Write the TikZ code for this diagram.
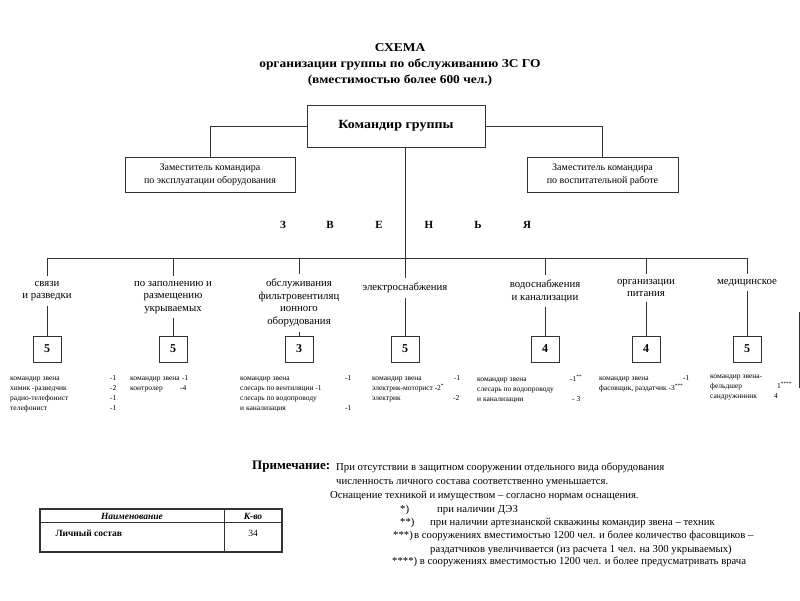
\documentclass[tikz,border=0pt]{standalone}
\usepackage{fontspec}
\setmainfont{Liberation Serif}
\newfontfamily\widefont[FakeStretch=1.12]{Liberation Serif}
\tikzset{
  wire/.style={line width=0.9pt, draw=black!80},
  frame/.style={draw=black!80, line width=0.9pt, align=center, inner sep=1pt},
  deptext/.style={font=\fontsize{10}{13}\selectfont},
  grp/.style={align=center, inner sep=1pt, outer sep=4pt, anchor=north, font=\fontsize{10.8}{12.5}\selectfont},
  numbox/.style={draw=black!80, line width=0.9pt, minimum width=28pt, minimum height=26pt, inner sep=0pt, font=\bfseries\fontsize{12}{12}\selectfont},
  lst/.style={anchor=north west, align=left, inner sep=0pt, font=\fontsize{7.5}{10}\selectfont},
  zv/.style={font=\bfseries\fontsize{11}{11}\selectfont},
  note/.style={anchor=base west, inner sep=0pt, font=\fontsize{10.7}{12}\selectfont},
}
\begin{document}
\begin{tikzpicture}[x=1pt,y=-1pt]
\useasboundingbox (0,0) rectangle (800,600);
% title
\node[align=center, font=\widefont\bfseries\fontsize{12}{16}\selectfont] (title) at (400,65)
  {СХЕМА\\организации группы по обслуживанию ЗС ГО\\(вместимостью более 600 чел.)};
% commander
\node[frame, minimum width=178pt, minimum height=42pt, font=\widefont\bfseries\fontsize{12.5}{13}\selectfont] (cmd) at (396,126) {Командир группы};
\node[frame, deptext, minimum width=170pt, minimum height=35pt] (dl) at (210,174.5) {Заместитель командира\\по эксплуатации оборудования};
\node[frame, deptext, minimum width=151pt, minimum height=35pt] (dr) at (602.5,174.5) {Заместитель командира\\по воспитательной работе};
\draw[wire] (cmd.west) -| (dl.north);
\draw[wire] (cmd.east) -| (dr.north);
% zvenya letters
\node[zv] (z1) at (283,225) {З};
\node[zv] (z2) at (330,225) {В};
\node[zv] (z3) at (379,225) {Е};
\node[zv] (z4) at (429,225) {Н};
\node[zv] (z5) at (478,225) {Ь};
\node[zv] (z6) at (527,225) {Я};
% bus
\coordinate (b1) at (47,258);
\coordinate (b2) at (173,258);
\coordinate (b3) at (299,258);
\coordinate (b4) at (405,258);
\coordinate (b5) at (545,258);
\coordinate (b6) at (646,258);
\coordinate (b7) at (747,258);
\draw[wire] (b1) -- (b7);
\draw[wire] (cmd.south -| b4) -- (b4);
% group labels
\node[grp] (l1) at (47,276) {связи\\и разведки};
\node[grp] (l2) at (173,276) {по заполнению и\\размещению\\укрываемых};
\node[grp] (l3) at (299,274) {обслуживания\\фильтровентиляц\\ионного\\оборудования};
\node[grp] (l4) at (405,278) {электроснабжения};
\node[grp] (l5) at (545,275) {водоснабжения\\и канализации};
\node[grp] (l6) at (646,274) {организации\\питания};
\node[grp] (l7) at (747,274) {медицинское};
% number boxes
\node[numbox] (n1) at (47,349) {5};
\node[numbox] (n2) at (173,349) {5};
\node[numbox] (n3) at (299,349) {3};
\node[numbox] (n4) at (405,349) {5};
\node[numbox] (n5) at (545,349) {4};
\node[numbox] (n6) at (646,349) {4};
\node[numbox] (n7) at (747,349) {5};
\foreach \i in {1,...,7}{
  \draw[wire] (b\i) -- (l\i.north);
  \draw[wire] (l\i.south) -- (n\i.north);
}
% lists
\node[lst] (s1) at (10,375) {\makebox[100pt][l]{командир звена}-1\\\makebox[100pt][l]{химик -разведчик}-2\\\makebox[100pt][l]{радио-телефонист}-1\\\makebox[100pt][l]{телефонист}-1};
\node[lst] (s2) at (130,375) {\makebox[52pt][l]{командир звена}-1\\\makebox[50pt][l]{контролер}-4};
\node[lst] (s3) at (240,375) {\makebox[105pt][l]{командир звена}-1\\слесарь по вентиляции -1\\слесарь по водопроводу\\\makebox[105pt][l]{и канализация}-1};
\node[lst] (s4) at (372,375) {\makebox[82pt][l]{командир звена}-1\\электрик-моторист -2\textsuperscript{*}\\\makebox[81pt][l]{электрик}-2};
\node[lst] (s5) at (477,375) {\makebox[93pt][l]{командир звена}-1\textsuperscript{**}\\слесарь по водопроводу\\\makebox[95pt][l]{и канализации}- 3};
\node[lst] (s6) at (599,375) {\makebox[84pt][l]{командир звена}-1\\фасовщик, раздатчик -3\textsuperscript{***}};
\node[lst] (s7) at (710,375) {командир звена-\\\makebox[67pt][l]{фельдшер}1\textsuperscript{****}\\\makebox[64pt][l]{сандружинник}4};
% stray edge line
\coordinate (e1) at (799,312);
\coordinate (e2) at (799,388);
\draw[wire] (e1) -- (e2);
% notes
\node[note, font=\bfseries\fontsize{13}{13}\selectfont] (pr) at (252,469) {Примечание:};
\node[note] (t1) at (336,470) {При отсутствии в защитном сооружении отдельного вида оборудования};
\node[note] (t2) at (336,484) {численность личного состава соответственно уменьшается.};
\node[note] (t3) at (330,498) {Оснащение техникой и имуществом – согласно нормам оснащения.};
\node[note] (f1a) at (400,512) {*)};
\node[note] (f1b) at (437,512) {при наличии ДЭЗ};
\node[note] (f2a) at (400,525) {**)};
\node[note] (f2b) at (430,525) {при наличии артезианской скважины командир звена – техник};
\node[note] (f3a) at (393,538) {***)};
\node[note] (f3b) at (414,538) {в сооружениях вместимостью 1200 чел. и более количество фасовщиков –};
\node[note] (f3c) at (430,552) {раздатчиков увеличивается (из расчета 1 чел. на 300 укрываемых)};
\node[note] (f4) at (392,564) {****) в сооружениях вместимостью 1200 чел. и более предусматривать врача};
% table
\draw[line width=1.3pt, draw=black!80] (40,509) rectangle (282,552);
\draw[line width=0.7pt, draw=black!80] (40,522) -- (282,522);
\draw[line width=1pt, draw=black!80] (224,509) -- (224,552);
\node[font=\bfseries\itshape\fontsize{9.5}{9.5}\selectfont] (h1) at (132,516) {Наименование};
\node[font=\bfseries\itshape\fontsize{9.5}{9.5}\selectfont] (h2) at (253,516) {К-во};
\node[anchor=west, font=\bfseries\fontsize{9.5}{9.5}\selectfont] (r1) at (52,533) {Личный состав};
\node[font=\fontsize{9.5}{9.5}\selectfont] (r2) at (253,533) {34};
\end{tikzpicture}
\end{document}
